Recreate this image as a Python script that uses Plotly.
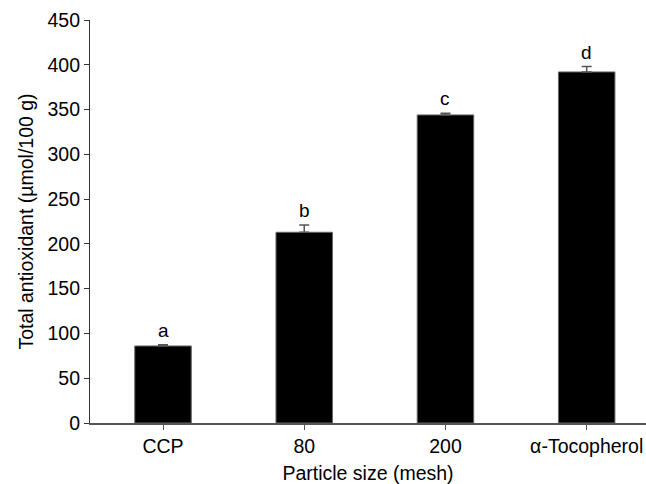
import plotly.graph_objects as go

categories = ["CCP", "80", "200", "α-Tocopherol"]
values = [86, 213, 344, 392]
errors = [1.5, 8, 1.8, 6]
letters = ["a", "b", "c", "d"]
y_ticks = [0, 50, 100, 150, 200, 250, 300, 350, 400, 450]

FONT = "Liberation Sans, Arial, sans-serif"
AX = "#555555"

fig = go.Figure()
fig.add_trace(go.Bar(
    x=list(range(len(categories))),
    y=values,
    width=0.4,
    marker=dict(color="black", line=dict(color="#666666", width=1)),
    error_y=dict(type="data", array=errors, symmetric=False, arrayminus=[0]*len(errors),
                 color="#555555", thickness=1.5, width=5),
))

for i, (v, e, l) in enumerate(zip(values, errors, letters)):
    fig.add_annotation(x=i, y=v + e, text=l, showarrow=False, yanchor="bottom",
                       yshift=2, font=dict(family=FONT, size=19, color="black"))

fig.update_layout(
    width=646, height=484,
    margin=dict(l=90, r=0, t=20, b=61),
    plot_bgcolor="white", paper_bgcolor="white",
    showlegend=False,
    font=dict(family=FONT, size=19, color="black"),
    bargap=0.6,
)
fig.update_xaxes(
    range=[-0.517, 3.42],
    tickmode="array", tickvals=list(range(len(categories))), ticktext=categories,
    showline=True, linecolor=AX, linewidth=1.5,
    ticks="outside", ticklen=5, tickcolor=AX,
    tickfont=dict(size=19.5),
    showgrid=False, zeroline=False,
    title=dict(text="Particle size (mesh)", font=dict(size=19.5), standoff=12),
)
fig.update_yaxes(
    range=[0, 450],
    tickmode="array", tickvals=y_ticks,
    showline=True, linecolor="#333333", linewidth=1.2,
    ticks="outside", ticklen=5, tickcolor="#333333",
    tickfont=dict(size=19.5),
    showgrid=False, zeroline=False,
    title=dict(text="Total antioxidant (µmol/100 g)", font=dict(size=19.5), standoff=8),
)

fig.write_html("out.html")
